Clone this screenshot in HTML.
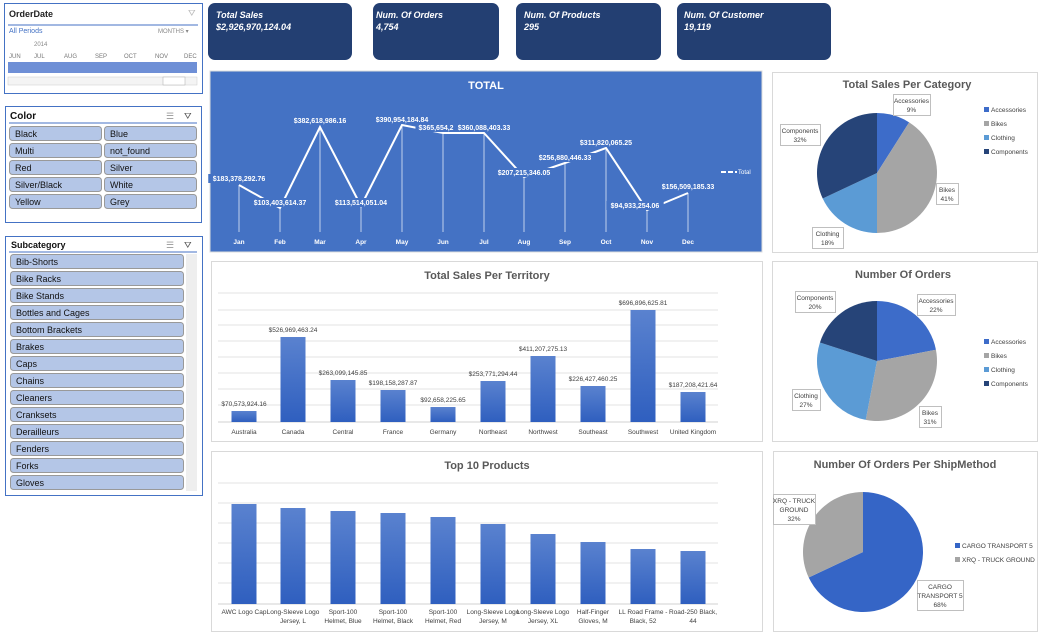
<!DOCTYPE html>
<html><head><meta charset="utf-8"><style>
body{margin:0;width:1044px;height:634px;background:#fff;overflow:hidden;font-family:"Liberation Sans",sans-serif}
svg text{font-family:"Liberation Sans",sans-serif}
</style></head><body>
<svg id="s" width="1044" height="634" xmlns="http://www.w3.org/2000/svg">
<!-- OrderDate slicer -->
<rect x="4.5" y="3.5" width="198" height="90" fill="#fff" stroke="#4472c4"/>
<text x="9" y="17" font-size="9" font-weight="bold" fill="#222">OrderDate</text>
<text x="188" y="16" font-size="9" fill="#bbb">⛛</text>
<line x1="8" y1="25" x2="198" y2="25" stroke="#4472c4"/>
<text x="9" y="33" font-size="7" fill="#4472c4">All Periods</text>
<text x="158" y="33" font-size="6" fill="#888">MONTHS ▾</text>
<text x="34" y="46" font-size="6" fill="#888">2014</text>
<g font-size="6" fill="#777"><text x="9" y="58">JUN</text><text x="34" y="58">JUL</text><text x="64" y="58">AUG</text><text x="95" y="58">SEP</text><text x="124" y="58">OCT</text><text x="155" y="58">NOV</text><text x="184" y="58">DEC</text></g>
<rect x="8" y="62" width="189" height="11" fill="#6e8fd6"/>
<rect x="8" y="77" width="189" height="8" fill="#f4f4f4" stroke="#ccc" stroke-width=".5"/>
<rect x="163" y="77" width="22" height="8" fill="#fff" stroke="#aaa" stroke-width=".5"/>
<!-- Color slicer -->
<rect x="5.5" y="106.5" width="196" height="116" fill="#fff" stroke="#4472c4"/>
<text x="10" y="119" font-size="10" font-weight="bold" fill="#111">Color</text>
<text x="166" y="119" font-size="9" fill="#999">☰</text><text x="184" y="119" font-size="9" fill="#555">⛛</text>
<line x1="9" y1="123" x2="197" y2="123" stroke="#4472c4"/>
<g id="colors"></g>
<!-- Subcategory slicer -->
<rect x="5.5" y="236.5" width="197" height="259" fill="#fff" stroke="#4472c4"/>
<text x="11" y="248" font-size="9" font-weight="bold" fill="#111">Subcategory</text>
<text x="166" y="248" font-size="9" fill="#999">☰</text><text x="184" y="248" font-size="9" fill="#555">⛛</text>
<line x1="9" y1="252" x2="197" y2="252" stroke="#4472c4"/>
<rect x="186" y="254" width="11" height="237" fill="#eee"/>
<g id="subs"></g>
<!-- KPI cards -->
<g fill="#233f72">
<rect x="208" y="3" width="144" height="57" rx="7"/><rect x="373" y="3" width="126" height="57" rx="7"/>
<rect x="516" y="3" width="145" height="57" rx="7"/><rect x="677" y="3" width="154" height="57" rx="7"/></g>
<g fill="#fff" font-size="9" font-weight="bold" font-style="italic">
<text x="216" y="18">Total Sales</text><text x="216" y="30">$2,926,970,124.04</text>
<text x="376" y="18">Num. Of Orders</text><text x="376" y="30">4,754</text>
<text x="524" y="18">Num. Of Products</text><text x="524" y="30">295</text>
<text x="684" y="18">Num. Of Customer</text><text x="684" y="30">19,119</text></g>
<!-- Line chart -->
<rect x="210" y="71" width="552" height="181" fill="#4472c4" stroke="#ddd"/>
<text x="486" y="89" font-size="11" font-weight="bold" fill="#fff" text-anchor="middle">TOTAL</text>
<g id="line"></g>
<line x1="721" y1="172" x2="737" y2="172" stroke="#fff" stroke-width="2" stroke-dasharray="5,2"/>
<text x="738" y="174" font-size="6" fill="#fff">Total</text>
<!-- Territory -->
<rect x="211.5" y="261.5" width="551" height="180" fill="#fff" stroke="#d9d9d9"/>
<text x="487" y="279" font-size="11" font-weight="bold" fill="#595959" text-anchor="middle">Total Sales Per Territory</text>
<g id="terr"></g>
<!-- Top 10 -->
<rect x="211.5" y="451.5" width="551" height="180" fill="#fff" stroke="#d9d9d9"/>
<text x="487" y="469" font-size="11" font-weight="bold" fill="#595959" text-anchor="middle">Top 10 Products</text>
<g id="top"></g>
<!-- pies -->
<rect x="772.5" y="72.5" width="265" height="180" fill="#fff" stroke="#d9d9d9"/>
<text x="907" y="88" font-size="11" font-weight="bold" fill="#595959" text-anchor="middle">Total Sales Per Category</text>
<rect x="772.5" y="261.5" width="265" height="180" fill="#fff" stroke="#d9d9d9"/>
<text x="903" y="278" font-size="11" font-weight="bold" fill="#595959" text-anchor="middle">Number Of Orders</text>
<rect x="773.5" y="451.5" width="264" height="180" fill="#fff" stroke="#d9d9d9"/>
<text x="905" y="468" font-size="11" font-weight="bold" fill="#595959" text-anchor="middle">Number Of Orders Per ShipMethod</text>
<g id="pies"></g>
</svg>
<script>
var NS="http://www.w3.org/2000/svg";
function el(p,t,a,txt){var e=document.createElementNS(NS,t);for(var k in a)e.setAttribute(k,a[k]);if(txt!=null)e.textContent=txt;document.getElementById(p).appendChild(e);return e;}
// colors
var cs=[["Black","Blue"],["Multi","not_found"],["Red","Silver"],["Silver/Black","White"],["Yellow","Grey"]];
cs.forEach(function(r,i){var y=126+i*17;
 el("colors","rect",{x:9.5,y:y+.5,width:92,height:14,rx:3,fill:"#b4c6e7",stroke:"#999"});
 el("colors","rect",{x:104.5,y:y+.5,width:92,height:14,rx:3,fill:"#b4c6e7",stroke:"#999"});
 el("colors","text",{x:15,y:y+11,"font-size":9,fill:"#111"},r[0]);
 el("colors","text",{x:110,y:y+11,"font-size":9,fill:"#111"},r[1]);});
var subs=["Bib-Shorts","Bike Racks","Bike Stands","Bottles and Cages","Bottom Brackets","Brakes","Caps","Chains","Cleaners","Cranksets","Derailleurs","Fenders","Forks","Gloves"];
subs.forEach(function(s,i){var y=254+i*17;
 el("subs","rect",{x:10.5,y:y+.5,width:173,height:14,rx:3,fill:"#b4c6e7",stroke:"#999"});
 el("subs","text",{x:16,y:y+11,"font-size":9,fill:"#111"},s);});
// line chart
var mx=[239,280,320,361,402,443,484,524,565,606,647,688],my=[185,208,127,206,125,133,133,177,163,148,210,193];
var mn=["Jan","Feb","Mar","Apr","May","Jun","Jul","Aug","Sep","Oct","Nov","Dec"];
var lv=["$183,378,292.76","$103,403,614.37","$382,618,986.16","$113,514,051.04","$390,954,184.84","$365,654,29","$360,088,403.33","$207,215,346.05","$256,880,446.33","$311,820,065.25","$94,933,254.06","$156,509,185.33"];
var lp=[[239,181],[280,205],[320,123],[361,205],[402,122],[438,130],[484,130],[524,175],[565,160],[606,145],[635,208],[688,189]];
for(var i=0;i<12;i++){el("line","line",{x1:mx[i],y1:my[i],x2:mx[i],y2:232,stroke:"#dfe8f7","stroke-width":1,opacity:.8});}
var pts=mx.map(function(x,i){return x+","+my[i]}).join(" ");
el("line","polyline",{points:pts,fill:"none",stroke:"#fff","stroke-width":2});
for(var i=0;i<12;i++){
 var w=lv[i].length*4.1;
 el("line","rect",{x:lp[i][0]-w/2,y:lp[i][1]-7,width:w,height:9,fill:"#4472c4"});
 el("line","text",{x:lp[i][0],y:lp[i][1],"font-size":7,"font-weight":"bold",fill:"#fff","text-anchor":"middle"},lv[i]);
 el("line","text",{x:mx[i],y:244,"font-size":6.5,"font-weight":"bold",fill:"#fff","text-anchor":"middle"},mn[i]);}
// bars
var bx=[244,293,343,393,443,493,543,593,643,693];
function grad(){var d=document.createElementNS(NS,"defs");d.innerHTML='<linearGradient id="g" x1="0" y1="0" x2="0" y2="1"><stop offset="0" stop-color="#5a82cf"/><stop offset="1" stop-color="#2f5fbf"/></linearGradient>';document.getElementById("s").appendChild(d);}
grad();
[293,310,325,341,357,373,389,405].forEach(function(y){el("terr","line",{x1:218,y1:y,x2:718,y2:y,stroke:"#e3e3e3"});});
el("terr","line",{x1:218,y1:422,x2:718,y2:422,stroke:"#d0d0d0"});
var tt=[411,337,380,390,407,381,356,386,310,392];
var tn=["Australia","Canada","Central","France","Germany","Northeast","Northwest","Southeast","Southwest","United Kingdom"];
var tl=["$70,573,924.16","$526,969,463.24","$263,099,145.85","$198,158,287.87","$92,658,225.65","$253,771,294.44","$411,207,275.13","$226,427,460.25","$696,896,625.81","$187,208,421.64"];
bx.forEach(function(x,i){el("terr","rect",{x:x-12.5,y:tt[i],width:25,height:422-tt[i],fill:"url(#g)"});
 el("terr","text",{x:x,y:tt[i]-5,"font-size":6.5,fill:"#404040","text-anchor":"middle"},tl[i]);
 el("terr","text",{x:x,y:434,"font-size":6.5,fill:"#404040","text-anchor":"middle"},tn[i]);});
[483,503,523,543,563,583].forEach(function(y){el("top","line",{x1:218,y1:y,x2:718,y2:y,stroke:"#e3e3e3"});});
el("top","line",{x1:218,y1:604,x2:718,y2:604,stroke:"#d0d0d0"});
var pt=[504,508,511,513,517,524,534,542,549,551];
var pn=[["AWC Logo Cap",""],["Long-Sleeve Logo","Jersey, L"],["Sport-100","Helmet, Blue"],["Sport-100","Helmet, Black"],["Sport-100","Helmet, Red"],["Long-Sleeve Logo","Jersey, M"],["Long-Sleeve Logo","Jersey, XL"],["Half-Finger","Gloves, M"],["LL Road Frame -","Black, 52"],["Road-250 Black,","44"]];
bx.forEach(function(x,i){el("top","rect",{x:x-12.5,y:pt[i],width:25,height:604-pt[i],fill:"url(#g)"});
 el("top","text",{x:x,y:614,"font-size":6.5,fill:"#404040","text-anchor":"middle"},pn[i][0]);
 el("top","text",{x:x,y:623,"font-size":6.5,fill:"#404040","text-anchor":"middle"},pn[i][1]);});
// pies
function pie(cx,cy,r,vals,cols){var a=0;vals.forEach(function(v,i){var a1=a+v*2*Math.PI;
 var x0=cx+r*Math.sin(a),y0=cy-r*Math.cos(a),x1=cx+r*Math.sin(a1),y1=cy-r*Math.cos(a1);
 el("pies","path",{d:"M"+cx+","+cy+" L"+x0+","+y0+" A"+r+","+r+" 0 "+(v>.5?1:0)+" 1 "+x1+","+y1+" Z",fill:cols[i]});a=a1;});}
var C4=["#3d6cc9","#a5a5a5","#5b9bd5","#264478"];
pie(877,173,60,[.09,.41,.18,.32],C4);
pie(877,361,60,[.22,.31,.27,.20],C4);
pie(863,552,60,[.68,.32],["#3565c6","#a5a5a5"]);
function lab(x,y,w,lines){el("pies","rect",{x:x+.5,y:y+.5,width:w,height:lines.length*9+3,fill:"#fff",stroke:"#bfbfbf"});
 lines.forEach(function(t,i){el("pies","text",{x:x+w/2,y:y+9+i*9,"font-size":6.5,fill:"#404040","text-anchor":"middle"},t);});}
lab(893,94,37,["Accessories","9%"]);lab(780,124,40,["Components","32%"]);lab(936,183,22,["Bikes","41%"]);lab(812,227,31,["Clothing","18%"]);
lab(795,291,40,["Components","20%"]);lab(917,294,38,["Accessories","22%"]);lab(792,389,28,["Clothing","27%"]);lab(919,406,22,["Bikes","31%"]);
lab(773,494,42,["XRQ - TRUCK","GROUND","32%"]);lab(917,580,46,["CARGO","TRANSPORT 5","68%"]);
function leg(y0,names,cols){names.forEach(function(n,i){var y=y0+i*14;el("pies","rect",{x:984,y:y-5,width:5,height:5,fill:cols[i]});
 el("pies","text",{x:991,y:y,"font-size":6.5,fill:"#404040"},n);});}
var N4=["Accessories","Bikes","Clothing","Components"];
leg(154-46+4,N4,C4);leg(344,N4,C4);
(function(){[["CARGO TRANSPORT 5","#3565c6",548],["XRQ - TRUCK GROUND","#a5a5a5",562]].forEach(function(d){
 el("pies","rect",{x:955,y:d[2]-5,width:5,height:5,fill:d[1]});el("pies","text",{x:962,y:d[2],"font-size":6.5,fill:"#404040"},d[0]);});})();
</script>
</body></html>
